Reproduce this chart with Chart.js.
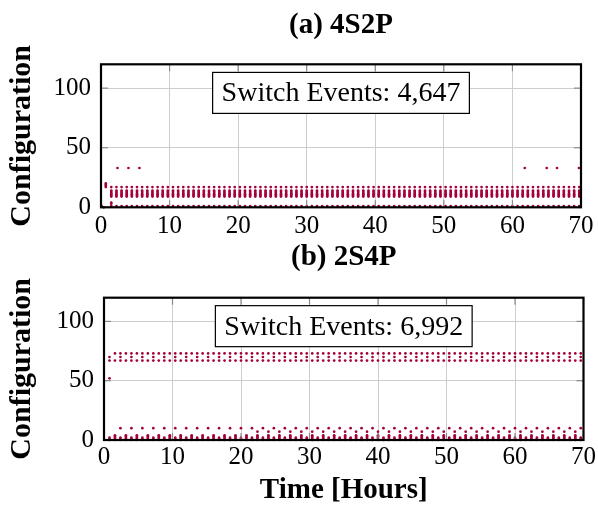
<!DOCTYPE html>
<html>
<head>
<meta charset="utf-8">
<script src="https://cdn.jsdelivr.net/npm/chart.js@4.4.1/dist/chart.umd.min.js"></script>
<style>
  html, body { margin: 0; padding: 0; background: #fff; }
  #wrap { position: relative; width: 598px; height: 510px; overflow: hidden; background: #fff; }
  canvas { position: absolute; left: 0; }
  #chartA { top: 0; }
  #chartB { top: 232px; }
</style>
</head>
<body>
<div id="wrap">
  <canvas id="chartA" width="598" height="250"></canvas>
  <canvas id="chartB" width="598" height="278"></canvas>
</div>
<script>
// Axis ticks shared by both panels
const hourTicks = [0, 10, 20, 30, 40, 50, 60, 70];
const configTicks = [0, 50, 100];
const xTitleText = 'Time [Hours]';
const yTitleText = 'Configuration';

// ---------- (a) 4S2P ----------
const titleA = '(a) 4S2P';
const eventsLabelA = 'Switch Events: 4,647';
// switching instants (hours) of the recurring cycle
const hoursA = [
  1.5, 2.25, 3, 3.75, 4.5, 5.25, 6, 6.75, 7.5, 8.25,
  9, 9.75, 10.5, 11.25, 12, 12.75, 13.5, 14.25, 15, 15.75,
  16.5, 17.25, 18, 18.75, 19.5, 20.25, 21, 21.75, 22.5, 23.25,
  24, 24.75, 25.5, 26.25, 27, 27.75, 28.5, 29.25, 30, 30.75,
  31.5, 32.25, 33, 33.75, 34.5, 35.25, 36, 36.75, 37.5, 38.25,
  39, 39.75, 40.5, 41.25, 42, 42.75, 43.5, 44.25, 45, 45.75,
  46.5, 47.25, 48, 48.75, 49.5, 50.25, 51, 51.75, 52.5, 53.25,
  54, 54.75, 55.5, 56.25, 57, 57.75, 58.5, 59.25, 60, 60.75,
  61.5, 62.25, 63, 63.75, 64.5, 65.25, 66, 66.75, 67.5, 68.25,
  69, 69.75
];
// configurations visited in each cycle, with the instants they occur at ('x')
const rowConfigsA = [1, 9, 10, 11, 12, 13, 14, 17];
const everyCycleA = 'xxxxxxxxxx xxxxxxxxxx xxxxxxxxxx xxxxxxxxxx xxxxxxxxxx xxxxxxxxxx xxxxxxxxxx xxxxxxxxxx xxxxxxxxxx xx';
const rowMasksA = [everyCycleA, everyCycleA, everyCycleA, everyCycleA, everyCycleA, everyCycleA, everyCycleA, everyCycleA];
// isolated switch events
const extraHoursA   = [0.1, 0.4, 0.7, 0.7, 0.7, 0.7, 1.5, 1.5, 2.4, 4.0, 5.6, 61.8, 65.0, 66.5, 69.7];
const extraConfigsA = [1,   0,   17,  18,  19,  20,  3,   4,   33,  33,  33,  33,   33,   33,   33];

// ---------- (b) 2S4P ----------
const titleB = '(b) 2S4P';
const eventsLabelB = 'Switch Events: 6,992';
const hoursB = [
  0.8, 1.6, 2.4, 3.2, 4, 4.8, 5.6, 6.4, 7.2, 8,
  8.8, 9.6, 10.4, 11.2, 12, 12.8, 13.6, 14.4, 15.2, 16,
  16.8, 17.6, 18.4, 19.2, 20, 20.8, 21.6, 22.4, 23.2, 24,
  24.8, 25.6, 26.4, 27.2, 28, 28.8, 29.6, 30.4, 31.2, 32,
  32.8, 33.6, 34.4, 35.2, 36, 36.8, 37.6, 38.4, 39.2, 40,
  40.8, 41.6, 42.4, 43.2, 44, 44.8, 45.6, 46.4, 47.2, 48,
  48.8, 49.6, 50.4, 51.2, 52, 52.8, 53.6, 54.4, 55.2, 56,
  56.8, 57.6, 58.4, 59.2, 60, 60.8, 61.6, 62.4, 63.2, 64,
  64.8, 65.6, 66.4, 67.2, 68, 68.8, 69.6
];
const rowConfigsB = [0, 1, 2, 3, 4, 7, 10, 67, 70, 73];
const rowMasksB = [
  'xxxxxxxxxx xxxxxxxxxx xxxxxxxxxx xxxxxxxxxx xxxxxxxxxx xxxxxxxxxx xxxxxxxxxx xxxxxxxxxx xxxxxxx',
  'xxxxxxxxxx xxxxxxxxxx xxxxxxxxxx xxxxxxxxxx xxxxxxxxxx xxxxxxxxxx xxxxxxxxxx xxxxxxxxxx xxxxxxx',
  'xxxxxxxxxx xxxxxxxxxx xxxxxxxxxx xxxxxxxxxx xxxxxxxxxx xxxxxxxxxx xxxxxxxxxx xxxxxxxxxx xxxxxxx',
  '.x.x.x.x.x .x.x.x.x.x .x.x.x.x.x .x.x.x.x.x .x.x.x.x.x .x.x.x.x.x .x.x.x.x.x .x.x.x.x.x .x.x.x.',
  '.x.x.x.x.x .x.x.x.x.x .x.x.x.x.x .x.x.x.x.x .x.x.x.x.x .x.x.x.x.x .x.x.x.x.x .x.x.x.x.x .x.x.x.',
  '.......... .......... .......x.x .x.x.x.x.x .x.x.x.x.x .x.x.x.x.x .x.x.x.x.x .x.x.x.x.x .x.x.x.',
  '..x.x.x.x. x.x.x.x.x. x.x.x.x.x. x.x.x.x.x. x.x.x.x.x. x.x.x.x.x. x.x.x.x.x. x.x.x.x.x. x.x.x.x',
  'xxxxxxxxxx xxxxxxxxxx xxxxxxxxxx xxxxxxxxxx xxxxxxxxxx xxxxxxxxxx xxxxxxxxxx xxxxxxxxxx xxxxxxx',
  'x.x.x.x.x. x.x.x.x.x. x.x.x.x.x. x.x.x.x.x. x.x.x.x.x. x.x.x.x.x. x.x.x.x.x. x.x.x.x.x. x.x.x.x',
  '.xxxxxxxxx xxxxxxxxxx xxxxxxxxxx xxxxxxxxxx xxxxxxxxxx xxxxxxxxxx xxxxxxxxxx xxxxxxxxxx xxxxxxx'
];
const extraHoursB   = [0.8];
const extraConfigsB = [52];

// ---------- styling ----------
const SERIF = "'Liberation Serif', 'Times New Roman', serif";
const DOT = '#a3003c';
const GRID = '#cdcdcd';

function buildPoints(hours, configs, masks, exHours, exConfigs) {
  const pts = [];
  configs.forEach((c, r) => {
    const m = masks[r].replace(/\s+/g, '');
    hours.forEach((t, i) => { if (m[i] === 'x') pts.push({ x: t, y: c }); });
  });
  exHours.forEach((t, i) => pts.push({ x: t, y: exConfigs[i] }));
  return pts;
}

// Frame, inward tick marks and the event-count box
const framePlugin = {
  id: 'frame',
  afterDatasetsDraw(chart, args, opts) {
    const { ctx, chartArea: a, scales: { x, y } } = chart;
    ctx.save();
    ctx.strokeStyle = '#8a8a8a';
    ctx.lineWidth = 1.2;
    const seg = (x1, y1, x2, y2) => { ctx.beginPath(); ctx.moveTo(x1, y1); ctx.lineTo(x2, y2); ctx.stroke(); };
    hourTicks.forEach(v => {
      const px = x.getPixelForValue(v);
      seg(px, a.top, px, a.top + 7);
      seg(px, a.bottom, px, a.bottom - 7);
    });
    configTicks.forEach(v => {
      const py = y.getPixelForValue(v);
      seg(a.left, py, a.left + 7, py);
      seg(a.right, py, a.right - 7, py);
    });

    ctx.font = '28px ' + SERIF;
    const tw = ctx.measureText(opts.label).width;
    const cx = (a.left + a.right) / 2;
    const cy = a.bottom - 0.8 * (a.bottom - a.top);
    const w = tw + 18, h = 41;
    ctx.fillStyle = '#fff';
    ctx.fillRect(cx - w / 2, cy - h / 2, w, h);
    ctx.strokeStyle = '#000';
    ctx.lineWidth = 1.2;
    ctx.strokeRect(cx - w / 2, cy - h / 2, w, h);
    ctx.fillStyle = '#000';
    ctx.textAlign = 'center';
    ctx.textBaseline = 'middle';
    ctx.fillText(opts.label, cx, cy + 1);

    ctx.lineWidth = 2.2;
    ctx.strokeStyle = '#000';
    ctx.strokeRect(a.left, a.top, a.right - a.left, a.bottom - a.top);
    ctx.restore();
  }
};

function makePanel(id, cfg) {
  return new Chart(document.getElementById(id), {
    type: 'scatter',
    data: {
      datasets: [{
        data: cfg.points,
        pointRadius: 1.35,
        pointHoverRadius: 1.35,
        pointBackgroundColor: DOT,
        pointBorderWidth: 0,
        clip: false
      }]
    },
    options: {
      responsive: false,
      animation: false,
      devicePixelRatio: 1,
      events: [],
      layout: { padding: { left: 0, right: cfg.padRight, top: 0, bottom: 0 } },
      plugins: {
        legend: { display: false },
        tooltip: { enabled: false },
        title: {
          display: true,
          text: cfg.title,
          fullSize: false,
          color: '#000',
          font: { family: SERIF, size: 29, weight: 'bold', lineHeight: 1.2 },
          padding: { top: cfg.titleTop, bottom: cfg.titleBottom }
        },
        frame: { label: cfg.label }
      },
      scales: {
        x: {
          type: 'linear',
          min: 0,
          max: 70,
          afterBuildTicks: s => { s.ticks = hourTicks.map(v => ({ value: v })); },
          afterFit: s => { s.height = cfg.xHeight; },
          grid: { color: GRID, lineWidth: 1, drawTicks: false },
          border: { display: false },
          ticks: { color: '#000', font: { family: SERIF, size: 25, lineHeight: 1.2 }, padding: cfg.xPad, maxRotation: 0, autoSkip: false },
          title: {
            display: cfg.showXTitle,
            text: xTitleText,
            color: '#000',
            font: { family: SERIF, size: 29, weight: 'bold', lineHeight: 1.2 },
            padding: { top: 0, bottom: 1.6 }
          }
        },
        y: {
          type: 'linear',
          min: 0,
          max: 120,
          afterBuildTicks: s => { s.ticks = configTicks.map(v => ({ value: v })); },
          afterFit: s => { s.width = cfg.yWidth; },
          grid: { color: GRID, lineWidth: 1, drawTicks: false },
          border: { display: false },
          ticks: { color: '#000', font: { family: SERIF, size: 25, lineHeight: 1.2 }, padding: 10 },
          title: {
            display: true,
            text: yTitleText,
            color: '#000',
            font: { family: SERIF, size: 30, weight: 'bold', lineHeight: 1.2 },
            padding: { top: 4, bottom: 0 }
          }
        }
      }
    },
    plugins: [framePlugin]
  });
}

makePanel('chartA', {
  points: buildPoints(hoursA, rowConfigsA, rowMasksA, extraHoursA, extraConfigsA),
  title: titleA,
  label: eventsLabelA,
  padRight: 17,
  yWidth: 101,
  xHeight: 42.7,
  xPad: 4,
  titleTop: 8,
  titleBottom: 21.5,
  showXTitle: false
});

makePanel('chartB', {
  points: buildPoints(hoursB, rowConfigsB, rowMasksB, extraHoursB, extraConfigsB),
  title: titleB,
  label: eventsLabelB,
  padRight: 13,
  yWidth: 104,
  xHeight: 70,
  xPad: 2,
  titleTop: 8,
  titleBottom: 22.9,
  showXTitle: true
});
</script>
</body>
</html>
